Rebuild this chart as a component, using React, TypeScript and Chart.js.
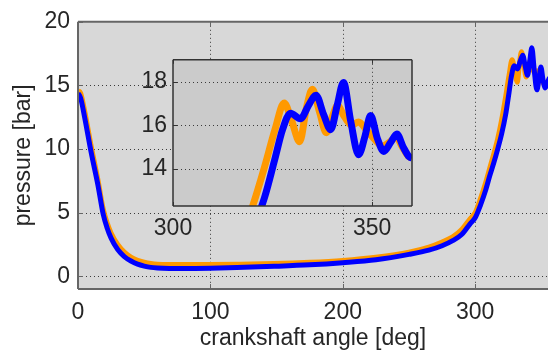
import React, { useEffect, useRef } from 'react';
import { Chart, registerables } from 'chart.js';
Chart.register(...registerables);

// ---- data ----
const blueAngle = [0, 2, 5, 10, 15, 19, 22, 25, 30, 35, 40, 45, 50, 55, 60, 80, 100, 120, 148, 175, 200, 225, 250, 265, 275, 283, 290, 296, 300, 304, 308, 311, 314, 317, 320, 323, 325.5, 327.5, 329.5, 332, 334, 335.9, 337.8, 339.6, 341.2, 342.8, 344.6, 346.6, 348.2, 349.6, 351.3, 352.9, 354.6, 356.2, 357.8, 359.3, 360];
const bluePressure = [14.4, 14.0, 12.5, 9.7, 7.2, 4.9, 3.8, 3.0, 2.1, 1.55, 1.2, 0.95, 0.8, 0.7, 0.66, 0.62, 0.64, 0.68, 0.78, 0.9, 1.07, 1.3, 1.72, 2.05, 2.4, 2.8, 3.3, 4.1, 4.6, 5.6, 6.8, 7.9, 8.9, 10.0, 11.2, 12.7, 14.4, 15.8, 16.55, 16.3, 16.9, 17.38, 16.5, 15.8, 16.9, 17.96, 16.2, 14.65, 15.5, 16.45, 15.4, 14.8, 15.2, 15.6, 15.0, 14.55, 14.5];

const orangeAngle = [0, 2, 5, 10, 15, 19, 22, 25, 30, 35, 40, 45, 50, 55, 60, 80, 100, 120, 148, 175, 200, 225, 250, 265, 275, 283, 290, 296, 300, 304, 308, 311, 314, 317, 320, 323, 325.6, 327.9, 329.8, 331.8, 333.5, 335, 336.8, 338.5, 340, 341.3, 343, 344.8, 346.6, 348.5, 350.4, 352.6, 354.5, 356, 357.6, 359, 360];
const orangePressure = [14.6, 14.4, 13.0, 10.2, 7.6, 5.3, 4.2, 3.4, 2.5, 1.9, 1.5, 1.25, 1.1, 1.0, 0.95, 0.92, 0.93, 0.95, 1.0, 1.1, 1.25, 1.5, 1.9, 2.3, 2.7, 3.1, 3.7, 4.5, 5.0, 6.1, 7.4, 8.5, 9.6, 10.8, 12.3, 14.1, 15.8, 17.02, 16.2, 15.25, 16.8, 17.65, 16.6, 15.66, 16.4, 16.9, 16.4, 16.0, 16.15, 15.8, 15.4, 15.05, 15.25, 15.45, 15.0, 14.6, 14.5];

const mainXTicks = [0, 100, 200, 300];
const mainYTicks = [0, 5, 10, 15, 20];
const insetXTicks = [300, 350];
const insetYTicks = [14, 16, 18];
const xTitle = 'crankshaft angle [deg]';
const yTitle = 'pressure [bar]';

const FONT = "'Liberation Sans', Arial, Helvetica, sans-serif";
const TEXT = '#262626';
const BLUE = '#0000ff';
const ORANGE = '#ff9900';

const toPoints = (xs: number[], ys: number[]) => xs.map((x, i) => ({ x, y: ys[i] }));

function framePlugin(opts: {
  bg: string; frame: string; frameWidth: number; sides: string[]; xTicks: number[]; yTicks: number[]; tick: number;
}) {
  return {
    id: 'frame',
    beforeDraw(chart: any) {
      const { ctx, chartArea: a } = chart;
      ctx.save();
      ctx.fillStyle = opts.bg;
      ctx.fillRect(a.left, a.top, a.right - a.left, a.bottom - a.top);
      ctx.restore();
    },
    beforeDatasetsDraw(chart: any) {
      const { ctx, chartArea: a, scales } = chart;
      ctx.save();
      ctx.strokeStyle = '#3a3a3a';
      ctx.lineWidth = 1;
      ctx.setLineDash([1, 3]);
      opts.xTicks.forEach((v) => {
        const px = Math.round(scales.x.getPixelForValue(v)) + 0.5;
        if (px <= a.left + 1 || px >= a.right - 1) return;
        ctx.beginPath(); ctx.moveTo(px, a.top); ctx.lineTo(px, a.bottom); ctx.stroke();
      });
      opts.yTicks.forEach((v) => {
        const py = Math.round(scales.y.getPixelForValue(v)) + 0.5;
        if (py <= a.top + 1 || py >= a.bottom - 1) return;
        ctx.beginPath(); ctx.moveTo(a.left, py); ctx.lineTo(a.right, py); ctx.stroke();
      });
      ctx.restore();
    },
    afterDatasetsDraw(chart: any) {
      const { ctx, chartArea: a, scales } = chart;
      ctx.save();
      ctx.strokeStyle = opts.frame;
      ctx.lineWidth = opts.frameWidth;
      ctx.setLineDash([]);
      ctx.beginPath();
      if (opts.sides.includes('left')) { ctx.moveTo(a.left, a.top); ctx.lineTo(a.left, a.bottom); }
      if (opts.sides.includes('bottom')) { ctx.moveTo(a.left, a.bottom); ctx.lineTo(a.right, a.bottom); }
      if (opts.sides.includes('top')) { ctx.moveTo(a.left, a.top); ctx.lineTo(a.right, a.top); }
      if (opts.sides.includes('right')) { ctx.moveTo(a.right, a.top); ctx.lineTo(a.right, a.bottom); }
      ctx.stroke();
      ctx.lineWidth = 1;
      ctx.beginPath();
      opts.xTicks.forEach((v) => {
        const px = Math.round(scales.x.getPixelForValue(v)) + 0.5;
        ctx.moveTo(px, a.bottom); ctx.lineTo(px, a.bottom - opts.tick);
        ctx.moveTo(px, a.top); ctx.lineTo(px, a.top + opts.tick);
      });
      opts.yTicks.forEach((v) => {
        const py = Math.round(scales.y.getPixelForValue(v)) + 0.5;
        ctx.moveTo(a.left, py); ctx.lineTo(a.left + opts.tick, py);
      });
      ctx.stroke();
      ctx.restore();
    },
  };
}

function datasets(width: number) {
  return [
    { data: toPoints(blueAngle, bluePressure), borderColor: BLUE, borderWidth: width, pointRadius: 0, cubicInterpolationMode: 'monotone' as const, fill: false },
    { data: toPoints(orangeAngle, orangePressure), borderColor: ORANGE, borderWidth: width, pointRadius: 0, cubicInterpolationMode: 'monotone' as const, fill: false },
  ];
}

export default function App() {
  const mainRef = useRef<HTMLCanvasElement>(null);
  const insetRef = useRef<HTMLCanvasElement>(null);

  useEffect(() => {
    const tickFont = { size: 23, family: FONT };
    const noGrid = { display: false, drawTicks: false, tickLength: 0 };
    const main = new Chart(mainRef.current!, {
      type: 'line',
      data: { datasets: datasets(5) as any },
      options: {
        animation: false,
        responsive: false,
        events: [],
        layout: { padding: { top: 15, left: 0, right: 0, bottom: 0 } },
        plugins: { legend: { display: false }, tooltip: { enabled: false } },
        scales: {
          x: {
            type: 'linear', min: 0, max: 355,
            grid: noGrid, border: { display: false },
            afterBuildTicks: (s: any) => { s.ticks = mainXTicks.map((v) => ({ value: v })); },
            afterFit: (s: any) => { s.height = 67; },
            ticks: { padding: 10, color: TEXT, font: tickFont, maxRotation: 0, autoSkip: false },
            title: { display: true, text: xTitle, color: TEXT, font: { size: 23, family: FONT }, padding: { top: 0, bottom: 4 } },
          },
          y: {
            type: 'linear', min: -1, max: 20,
            grid: noGrid, border: { display: false },
            afterBuildTicks: (s: any) => { s.ticks = mainYTicks.map((v) => ({ value: v })); },
            afterFit: (s: any) => { s.width = 78; },
            ticks: { padding: 8, color: TEXT, font: tickFont, autoSkip: false },
            title: { display: true, text: yTitle, color: TEXT, font: { size: 23, family: FONT }, padding: { top: 10, bottom: 0 } },
          },
        },
      },
      plugins: [framePlugin({ bg: '#d8d8d8', frame: '#666666', frameWidth: 2, sides: ['left', 'bottom', 'top'], xTicks: mainXTicks, yTicks: mainYTicks, tick: 5 })],
    });

    const inset = new Chart(insetRef.current!, {
      type: 'line',
      data: { datasets: datasets(7) as any },
      options: {
        animation: false,
        responsive: false,
        events: [],
        layout: { padding: { top: 11, left: 0, right: 8, bottom: 0 } },
        plugins: { legend: { display: false }, tooltip: { enabled: false } },
        scales: {
          x: {
            type: 'linear', min: 300, max: 360,
            grid: noGrid, border: { display: false },
            afterBuildTicks: (s: any) => { s.ticks = insetXTicks.map((v) => ({ value: v })); },
            afterFit: (s: any) => { s.height = 39; },
            ticks: { padding: 9, color: TEXT, font: tickFont, maxRotation: 0, autoSkip: false },
          },
          y: {
            type: 'linear', min: 12.3, max: 19,
            grid: noGrid, border: { display: false },
            afterBuildTicks: (s: any) => { s.ticks = insetYTicks.map((v) => ({ value: v })); },
            afterFit: (s: any) => { s.width = 53; },
            ticks: { padding: 6, color: TEXT, font: tickFont, autoSkip: false },
          },
        },
      },
      plugins: [framePlugin({ bg: '#cbcbcb', frame: '#333333', frameWidth: 1.5, sides: ['left', 'bottom', 'top', 'right'], xTicks: insetXTicks, yTicks: insetYTicks, tick: 4 })],
    });

    return () => { main.destroy(); inset.destroy(); };
  }, []);

  return (
    <div style={{ position: 'fixed', left: 0, top: 0, width: 548, height: 356, background: '#fff', overflow: 'hidden' }}>
      <canvas ref={mainRef} width={548} height={356} style={{ position: 'absolute', left: 0, top: 0, width: 548, height: 356 }} />
      <canvas ref={insetRef} width={300} height={205} style={{ position: 'absolute', left: 120, top: 40, width: 300, height: 205 }} />
    </div>
  );
}
